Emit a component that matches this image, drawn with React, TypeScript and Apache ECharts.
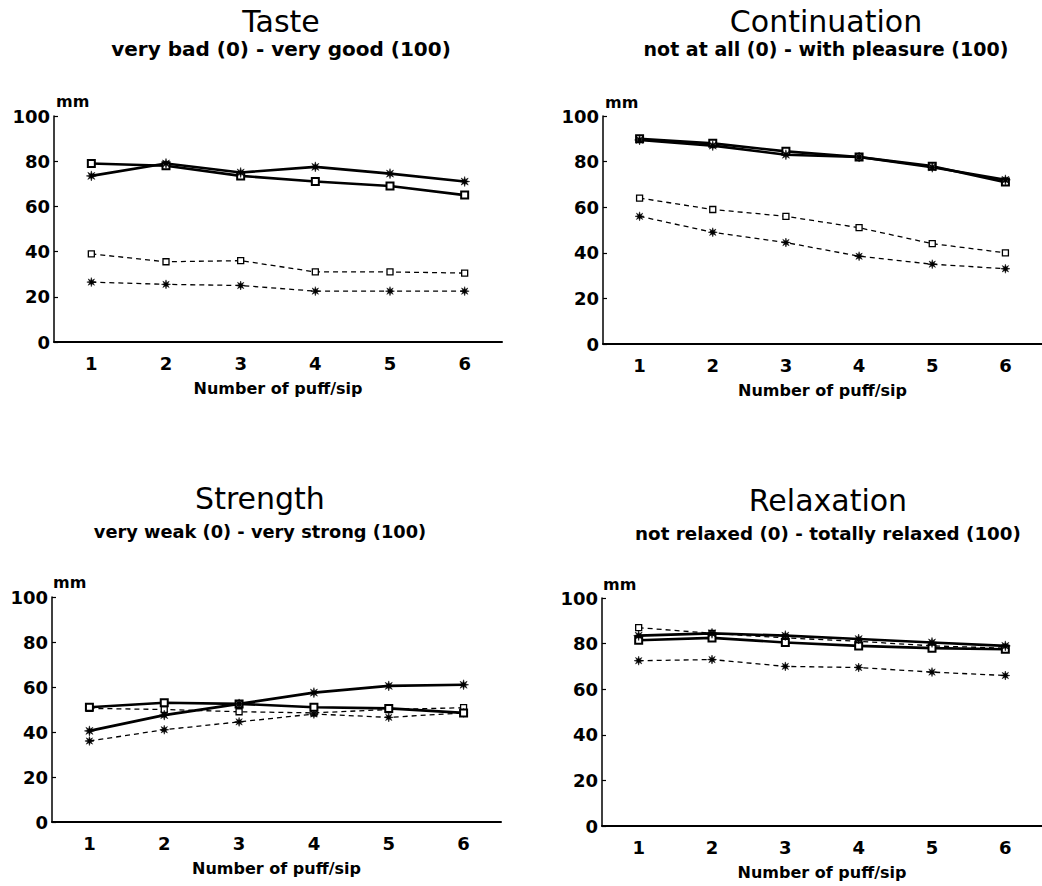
import React, { useEffect, useRef } from "react";
import * as echarts from "echarts";

const puffs = ["1", "2", "3", "4", "5", "6"];

const panelTitles = ["Taste", "Continuation", "Strength", "Relaxation"];
const panelSubtitles = [
  "very bad (0) - very good (100)",
  "not at all (0) - with pleasure (100)",
  "very weak (0) - very strong (100)",
  "not relaxed (0) - totally relaxed (100)",
];
const xAxisName = "Number of puff/sip";
const yUnit = "mm";

// Taste
const tasteSolidSquare = [79, 78, 73.5, 71, 69, 65];
const tasteSolidStar = [73.5, 79, 75, 77.5, 74.5, 71];
const tasteDashedSquare = [39, 35.5, 36, 31, 31, 30.5];
const tasteDashedStar = [26.5, 25.5, 25, 22.5, 22.5, 22.5];

// Continuation
const contSolidSquare = [90, 88, 84.5, 82, 78, 71];
const contSolidStar = [89.5, 87, 83, 82, 77.5, 72];
const contDashedSquare = [64, 59, 56, 51, 44, 40];
const contDashedStar = [56, 49, 44.5, 38.5, 35, 33];

// Strength
const strSolidSquare = [51, 53, 52.5, 51, 50.5, 48.5];
const strSolidStar = [40.5, 47.5, 52.5, 57.5, 60.5, 61];
const strDashedSquare = [50.5, 50, 49, 48.5, 50, 50.8];
const strDashedStar = [36, 41, 44.5, 48, 46.5, 48.5];

// Relaxation
const relSolidSquare = [81.5, 82.5, 80.5, 79, 78, 77.5];
const relSolidStar = [83.5, 84.5, 83.5, 82, 80.5, 79];
const relDashedSquare = [87, 84.5, 82.5, 81, 79, 78];
const relDashedStar = [72.5, 73, 70, 69.5, 67.5, 66];

const panelData = [
  [tasteSolidSquare, tasteSolidStar, tasteDashedSquare, tasteDashedStar],
  [contSolidSquare, contSolidStar, contDashedSquare, contDashedStar],
  [strSolidSquare, strSolidStar, strDashedSquare, strDashedStar],
  [relSolidSquare, relSolidStar, relDashedSquare, relDashedStar],
];

const STAR =
  "path://M0,-1L0.153,-0.37L0.707,-0.707L0.37,-0.153L1,0L0.37,0.153L0.707,0.707L0.153,0.37L0,1L-0.153,0.37L-0.707,0.707L-0.37,0.153L-1,0L-0.37,-0.153L-0.707,-0.707L-0.153,-0.37Z";

const FONT = "DejaVu Sans";

const grids = [
  { left: 54, top: 116, width: 448, height: 226 },
  { left: 603, top: 116, width: 450, height: 228 },
  { left: 52, top: 597, width: 449, height: 225 },
  { left: 602, top: 598, width: 451, height: 228 },
];

const titlePos = [
  { x: 281, ty: 21, sy: 48.5, ss: 20 },
  { x: 826, ty: 21, sy: 48.5, ss: 19 },
  { x: 260, ty: 498, sy: 531, ss: 17.8 },
  { x: 828, ty: 500, sy: 533, ss: 18.3 },
];

const unitPos = [
  { x: 56, y: 101 },
  { x: 605, y: 102 },
  { x: 53, y: 582 },
  { x: 603, y: 584 },
];

export default function App() {
  const ref = useRef<HTMLDivElement>(null);
  useEffect(() => {
    if (!ref.current) return;
    const chart = echarts.init(ref.current, undefined, { renderer: "svg" });
    const xAxes: any[] = [];
    const yAxes: any[] = [];
    const series: any[] = [];
    const graphics: any[] = [];
    grids.forEach((g, i) => {
      xAxes.push({
        type: "category",
        gridIndex: i,
        data: puffs,
        boundaryGap: true,
        name: xAxisName,
        nameLocation: "middle",
        nameGap: 38,
        nameTextStyle: { fontFamily: FONT, fontWeight: "bold", fontSize: 16, color: "#000" },
        axisLine: { lineStyle: { color: "#000", width: 2 } },
        axisTick: { alignWithLabel: true, length: 4, lineStyle: { color: "#000", width: 1.5 } },
        axisLabel: { fontFamily: FONT, fontWeight: "bold", fontSize: 18, color: "#000", margin: 12 },
        splitLine: { show: false },
      });
      yAxes.push({
        type: "value",
        gridIndex: i,
        min: 0,
        max: 100,
        interval: 20,
        axisLine: { show: true, lineStyle: { color: "#000", width: 1.5 } },
        axisTick: { show: true, inside: true, length: 4, lineStyle: { color: "#000", width: 1.2 } },
        axisLabel: { fontFamily: FONT, fontWeight: "bold", fontSize: 18, color: "#000", margin: 4 },
        splitLine: { show: false },
      });
      const [ss, st, ds, dt] = panelData[i];
      const mk = (data: number[], solid: boolean, square: boolean) => ({
        type: "line",
        xAxisIndex: i,
        yAxisIndex: i,
        data,
        symbol: square ? "rect" : STAR,
        symbolSize: square ? (solid ? 7 : 6) : solid ? 10 : 9,
        showSymbol: true,
        itemStyle: square
          ? { color: "#fff", borderColor: "#000", borderWidth: solid ? 2 : 1.3 }
          : { color: "#000", borderColor: "#000", borderWidth: 0.5 },
        lineStyle: solid
          ? { color: "#000", width: 2.6, type: "solid" }
          : { color: "#000", width: 1.3, type: [5, 4] },
        z: solid ? 3 : 2,
      });
      series.push(mk(ss, true, true), mk(st, true, false), mk(ds, false, true), mk(dt, false, false));

      const tp = titlePos[i];
      graphics.push({
        type: "text",
        x: tp.x,
        y: tp.ty,
        style: {
          text: panelTitles[i],
          fontFamily: FONT,
          fontSize: 30,
          fill: "#000",
          align: "center",
          verticalAlign: "middle",
        },
      });
      graphics.push({
        type: "text",
        x: tp.x,
        y: tp.sy,
        style: {
          text: panelSubtitles[i],
          fontFamily: FONT,
          fontWeight: "bold",
          fontSize: tp.ss,
          fill: "#000",
          align: "center",
          verticalAlign: "middle",
        },
      });
      const up = unitPos[i];
      graphics.push({
        type: "text",
        x: up.x,
        y: up.y,
        style: {
          text: yUnit,
          fontFamily: FONT,
          fontWeight: "bold",
          fontSize: 16,
          fill: "#000",
          align: "left",
          verticalAlign: "middle",
        },
      });
    });
    chart.setOption({
      animation: false,
      backgroundColor: "#fff",
      grid: grids.map((g) => ({ ...g, containLabel: false })),
      xAxis: xAxes,
      yAxis: yAxes,
      series,
      graphic: graphics,
    });
    return () => chart.dispose();
  }, []);
  return (
    <div
      ref={ref}
      style={{ position: "absolute", left: 0, top: 0, width: 1042, height: 886, background: "#fff" }}
    />
  );
}
